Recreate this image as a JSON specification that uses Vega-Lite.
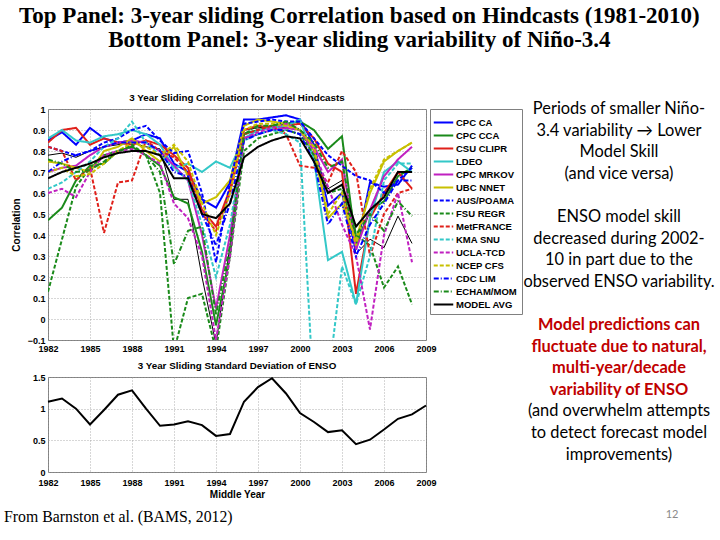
{
"$schema":"https://vega.github.io/schema/vega-lite/v6.json",
"background":"white",
"padding":{"left":4,"top":5,"right":0,"bottom":0},
"title":{"text":["Top Panel: 3-year sliding Correlation based on Hindcasts (1981-2010)","Bottom Panel: 3-year sliding variability of Niño-3.4"],"font":"Liberation Serif, Times New Roman, serif","fontSize":23,"fontWeight":"bold","lineHeight":23.5,"color":"#000","anchor":"middle","offset":41},
"config":{
 "view":{"stroke":"#808080","strokeWidth":1},
 "axis":{"labelFont":"Liberation Sans","labelFontWeight":"bold","labelFontSize":9,"labelColor":"#000","labelOverlap":false,"labelFlush":false,"gridColor":"#999","gridDash":[1,2],"gridWidth":0.8,"domain":false,"ticks":false,"titleFont":"Liberation Sans","titleFontSize":10,"titleFontWeight":"bold","titleColor":"#000","labelPadding":3}
},
"datasets":{
"corr":[
{"model":"CPC CA","year":1982,"r":0.85},{"model":"CPC CA","year":1983,"r":0.89},{"model":"CPC CA","year":1984,"r":0.83},{"model":"CPC CA","year":1985,"r":0.91},{"model":"CPC CA","year":1986,"r":0.86},{"model":"CPC CA","year":1987,"r":0.84},{"model":"CPC CA","year":1988,"r":0.85},{"model":"CPC CA","year":1989,"r":0.88},{"model":"CPC CA","year":1990,"r":0.86},{"model":"CPC CA","year":1991,"r":0.74},{"model":"CPC CA","year":1992,"r":0.70},{"model":"CPC CA","year":1993,"r":0.57},{"model":"CPC CA","year":1994,"r":0.53},{"model":"CPC CA","year":1995,"r":0.65},{"model":"CPC CA","year":1996,"r":0.95},{"model":"CPC CA","year":1997,"r":0.95},{"model":"CPC CA","year":1998,"r":0.96},{"model":"CPC CA","year":1999,"r":0.97},{"model":"CPC CA","year":2000,"r":0.95},{"model":"CPC CA","year":2001,"r":0.83},{"model":"CPC CA","year":2002,"r":0.54},{"model":"CPC CA","year":2003,"r":0.60},{"model":"CPC CA","year":2004,"r":0.33},{"model":"CPC CA","year":2005,"r":0.65},{"model":"CPC CA","year":2006,"r":0.63},{"model":"CPC CA","year":2007,"r":0.64},{"model":"CPC CA","year":2008,"r":0.73},
{"model":"CPC CCA","year":1982,"r":0.47},{"model":"CPC CCA","year":1983,"r":0.53},{"model":"CPC CCA","year":1984,"r":0.66},{"model":"CPC CCA","year":1985,"r":0.73},{"model":"CPC CCA","year":1986,"r":0.74},{"model":"CPC CCA","year":1987,"r":0.80},{"model":"CPC CCA","year":1988,"r":0.82},{"model":"CPC CCA","year":1989,"r":0.78},{"model":"CPC CCA","year":1990,"r":0.73},{"model":"CPC CCA","year":1991,"r":0.58},{"model":"CPC CCA","year":1992,"r":0.55},{"model":"CPC CCA","year":1993,"r":0.32},{"model":"CPC CCA","year":1994,"r":-0.03},{"model":"CPC CCA","year":1995,"r":0.30},{"model":"CPC CCA","year":1996,"r":0.88},{"model":"CPC CCA","year":1997,"r":0.90},{"model":"CPC CCA","year":1998,"r":0.92},{"model":"CPC CCA","year":1999,"r":0.93},{"model":"CPC CCA","year":2000,"r":0.94},{"model":"CPC CCA","year":2001,"r":0.90},{"model":"CPC CCA","year":2002,"r":0.81},{"model":"CPC CCA","year":2003,"r":0.87},{"model":"CPC CCA","year":2004,"r":0.35},{"model":"CPC CCA","year":2005,"r":0.52},{"model":"CPC CCA","year":2006,"r":0.56},{"model":"CPC CCA","year":2007,"r":0.68},{"model":"CPC CCA","year":2008,"r":0.72},
{"model":"CSU CLIPR","year":1982,"r":0.84},{"model":"CSU CLIPR","year":1983,"r":0.90},{"model":"CSU CLIPR","year":1984,"r":0.91},{"model":"CSU CLIPR","year":1985,"r":0.83},{"model":"CSU CLIPR","year":1986,"r":0.86},{"model":"CSU CLIPR","year":1987,"r":0.84},{"model":"CSU CLIPR","year":1988,"r":0.83},{"model":"CSU CLIPR","year":1989,"r":0.85},{"model":"CSU CLIPR","year":1990,"r":0.83},{"model":"CSU CLIPR","year":1991,"r":0.78},{"model":"CSU CLIPR","year":1992,"r":0.72},{"model":"CSU CLIPR","year":1993,"r":0.52},{"model":"CSU CLIPR","year":1994,"r":0.44},{"model":"CSU CLIPR","year":1995,"r":0.62},{"model":"CSU CLIPR","year":1996,"r":0.90},{"model":"CSU CLIPR","year":1997,"r":0.92},{"model":"CSU CLIPR","year":1998,"r":0.91},{"model":"CSU CLIPR","year":1999,"r":0.92},{"model":"CSU CLIPR","year":2000,"r":0.93},{"model":"CSU CLIPR","year":2001,"r":0.86},{"model":"CSU CLIPR","year":2002,"r":0.74},{"model":"CSU CLIPR","year":2003,"r":0.70},{"model":"CSU CLIPR","year":2004,"r":0.12},{"model":"CSU CLIPR","year":2005,"r":0.48},{"model":"CSU CLIPR","year":2006,"r":0.60},{"model":"CSU CLIPR","year":2007,"r":0.70},{"model":"CSU CLIPR","year":2008,"r":0.62},
{"model":"LDEO","year":1982,"r":0.86},{"model":"LDEO","year":1983,"r":0.90},{"model":"LDEO","year":1984,"r":0.85},{"model":"LDEO","year":1985,"r":0.84},{"model":"LDEO","year":1986,"r":0.87},{"model":"LDEO","year":1987,"r":0.88},{"model":"LDEO","year":1988,"r":0.90},{"model":"LDEO","year":1989,"r":0.88},{"model":"LDEO","year":1990,"r":0.83},{"model":"LDEO","year":1991,"r":0.72},{"model":"LDEO","year":1992,"r":0.74},{"model":"LDEO","year":1993,"r":0.70},{"model":"LDEO","year":1994,"r":0.75},{"model":"LDEO","year":1995,"r":0.72},{"model":"LDEO","year":1996,"r":0.86},{"model":"LDEO","year":1997,"r":0.90},{"model":"LDEO","year":1998,"r":0.91},{"model":"LDEO","year":1999,"r":0.92},{"model":"LDEO","year":2000,"r":0.95},{"model":"LDEO","year":2001,"r":0.76},{"model":"LDEO","year":2002,"r":0.28},{"model":"LDEO","year":2003,"r":0.32},{"model":"LDEO","year":2004,"r":0.07},{"model":"LDEO","year":2005,"r":0.48},{"model":"LDEO","year":2006,"r":0.70},{"model":"LDEO","year":2007,"r":0.75},{"model":"LDEO","year":2008,"r":0.70},
{"model":"CPC MRKOV","year":1982,"r":0.70},{"model":"CPC MRKOV","year":1983,"r":0.72},{"model":"CPC MRKOV","year":1984,"r":0.73},{"model":"CPC MRKOV","year":1985,"r":0.78},{"model":"CPC MRKOV","year":1986,"r":0.82},{"model":"CPC MRKOV","year":1987,"r":0.84},{"model":"CPC MRKOV","year":1988,"r":0.85},{"model":"CPC MRKOV","year":1989,"r":0.84},{"model":"CPC MRKOV","year":1990,"r":0.80},{"model":"CPC MRKOV","year":1991,"r":0.73},{"model":"CPC MRKOV","year":1992,"r":0.66},{"model":"CPC MRKOV","year":1993,"r":0.40},{"model":"CPC MRKOV","year":1994,"r":0.05},{"model":"CPC MRKOV","year":1995,"r":0.40},{"model":"CPC MRKOV","year":1996,"r":0.86},{"model":"CPC MRKOV","year":1997,"r":0.88},{"model":"CPC MRKOV","year":1998,"r":0.90},{"model":"CPC MRKOV","year":1999,"r":0.91},{"model":"CPC MRKOV","year":2000,"r":0.90},{"model":"CPC MRKOV","year":2001,"r":0.82},{"model":"CPC MRKOV","year":2002,"r":0.70},{"model":"CPC MRKOV","year":2003,"r":0.76},{"model":"CPC MRKOV","year":2004,"r":0.33},{"model":"CPC MRKOV","year":2005,"r":0.52},{"model":"CPC MRKOV","year":2006,"r":0.68},{"model":"CPC MRKOV","year":2007,"r":0.76},{"model":"CPC MRKOV","year":2008,"r":0.82},
{"model":"UBC NNET","year":1982,"r":0.75},{"model":"UBC NNET","year":1983,"r":0.74},{"model":"UBC NNET","year":1984,"r":0.72},{"model":"UBC NNET","year":1985,"r":0.70},{"model":"UBC NNET","year":1986,"r":0.80},{"model":"UBC NNET","year":1987,"r":0.82},{"model":"UBC NNET","year":1988,"r":0.86},{"model":"UBC NNET","year":1989,"r":0.80},{"model":"UBC NNET","year":1990,"r":0.75},{"model":"UBC NNET","year":1991,"r":0.82},{"model":"UBC NNET","year":1992,"r":0.68},{"model":"UBC NNET","year":1993,"r":0.55},{"model":"UBC NNET","year":1994,"r":0.58},{"model":"UBC NNET","year":1995,"r":0.66},{"model":"UBC NNET","year":1996,"r":0.92},{"model":"UBC NNET","year":1997,"r":0.95},{"model":"UBC NNET","year":1998,"r":0.94},{"model":"UBC NNET","year":1999,"r":0.93},{"model":"UBC NNET","year":2000,"r":0.90},{"model":"UBC NNET","year":2001,"r":0.80},{"model":"UBC NNET","year":2002,"r":0.48},{"model":"UBC NNET","year":2003,"r":0.55},{"model":"UBC NNET","year":2004,"r":0.38},{"model":"UBC NNET","year":2005,"r":0.60},{"model":"UBC NNET","year":2006,"r":0.75},{"model":"UBC NNET","year":2007,"r":0.80},{"model":"UBC NNET","year":2008,"r":0.84},
{"model":"AUS/POAMA","year":1982,"r":0.82},{"model":"AUS/POAMA","year":1983,"r":0.80},{"model":"AUS/POAMA","year":1984,"r":0.78},{"model":"AUS/POAMA","year":1985,"r":0.80},{"model":"AUS/POAMA","year":1986,"r":0.84},{"model":"AUS/POAMA","year":1987,"r":0.86},{"model":"AUS/POAMA","year":1988,"r":0.90},{"model":"AUS/POAMA","year":1989,"r":0.92},{"model":"AUS/POAMA","year":1990,"r":0.85},{"model":"AUS/POAMA","year":1991,"r":0.79},{"model":"AUS/POAMA","year":1992,"r":0.80},{"model":"AUS/POAMA","year":1993,"r":0.60},{"model":"AUS/POAMA","year":1994,"r":0.27},{"model":"AUS/POAMA","year":1995,"r":0.65},{"model":"AUS/POAMA","year":1996,"r":0.93},{"model":"AUS/POAMA","year":1997,"r":0.94},{"model":"AUS/POAMA","year":1998,"r":0.95},{"model":"AUS/POAMA","year":1999,"r":0.94},{"model":"AUS/POAMA","year":2000,"r":0.94},{"model":"AUS/POAMA","year":2001,"r":0.86},{"model":"AUS/POAMA","year":2002,"r":0.78},{"model":"AUS/POAMA","year":2003,"r":0.73},{"model":"AUS/POAMA","year":2004,"r":0.68},{"model":"AUS/POAMA","year":2005,"r":0.66},{"model":"AUS/POAMA","year":2006,"r":0.60},{"model":"AUS/POAMA","year":2007,"r":0.66},{"model":"AUS/POAMA","year":2008,"r":0.72},
{"model":"FSU REGR","year":1982,"r":0.13},{"model":"FSU REGR","year":1983,"r":0.38},{"model":"FSU REGR","year":1984,"r":0.63},{"model":"FSU REGR","year":1985,"r":0.72},{"model":"FSU REGR","year":1986,"r":0.78},{"model":"FSU REGR","year":1987,"r":0.80},{"model":"FSU REGR","year":1988,"r":0.83},{"model":"FSU REGR","year":1989,"r":0.78},{"model":"FSU REGR","year":1990,"r":0.60},{"model":"FSU REGR","year":1991,"r":-0.15},{"model":"FSU REGR","year":1992,"r":0.10},{"model":"FSU REGR","year":1993,"r":0.12},{"model":"FSU REGR","year":1994,"r":-0.15},{"model":"FSU REGR","year":1995,"r":0.30},{"model":"FSU REGR","year":1996,"r":0.80},{"model":"FSU REGR","year":1997,"r":0.86},{"model":"FSU REGR","year":1998,"r":0.88},{"model":"FSU REGR","year":1999,"r":0.90},{"model":"FSU REGR","year":2000,"r":0.88},{"model":"FSU REGR","year":2001,"r":0.78},{"model":"FSU REGR","year":2002,"r":0.60},{"model":"FSU REGR","year":2003,"r":0.62},{"model":"FSU REGR","year":2004,"r":0.40},{"model":"FSU REGR","year":2005,"r":0.35},{"model":"FSU REGR","year":2006,"r":0.15},{"model":"FSU REGR","year":2007,"r":0.25},{"model":"FSU REGR","year":2008,"r":0.07},
{"model":"MetFRANCE","year":1982,"r":0.82},{"model":"MetFRANCE","year":1983,"r":0.80},{"model":"MetFRANCE","year":1984,"r":0.66},{"model":"MetFRANCE","year":1985,"r":0.72},{"model":"MetFRANCE","year":1986,"r":0.41},{"model":"MetFRANCE","year":1987,"r":0.65},{"model":"MetFRANCE","year":1988,"r":0.66},{"model":"MetFRANCE","year":1989,"r":0.85},{"model":"MetFRANCE","year":1990,"r":0.80},{"model":"MetFRANCE","year":1991,"r":0.77},{"model":"MetFRANCE","year":1992,"r":0.70},{"model":"MetFRANCE","year":1993,"r":0.50},{"model":"MetFRANCE","year":1994,"r":0.42},{"model":"MetFRANCE","year":1995,"r":0.60},{"model":"MetFRANCE","year":1996,"r":0.88},{"model":"MetFRANCE","year":1997,"r":0.90},{"model":"MetFRANCE","year":1998,"r":0.92},{"model":"MetFRANCE","year":1999,"r":0.88},{"model":"MetFRANCE","year":2000,"r":0.73},{"model":"MetFRANCE","year":2001,"r":0.72},{"model":"MetFRANCE","year":2002,"r":0.65},{"model":"MetFRANCE","year":2003,"r":0.80},{"model":"MetFRANCE","year":2004,"r":0.70},{"model":"MetFRANCE","year":2005,"r":0.30},{"model":"MetFRANCE","year":2006,"r":0.50},{"model":"MetFRANCE","year":2007,"r":0.60},{"model":"MetFRANCE","year":2008,"r":0.62},
{"model":"KMA SNU","year":1982,"r":0.62},{"model":"KMA SNU","year":1983,"r":0.65},{"model":"KMA SNU","year":1984,"r":0.70},{"model":"KMA SNU","year":1985,"r":0.75},{"model":"KMA SNU","year":1986,"r":0.82},{"model":"KMA SNU","year":1987,"r":0.86},{"model":"KMA SNU","year":1988,"r":0.94},{"model":"KMA SNU","year":1989,"r":0.84},{"model":"KMA SNU","year":1990,"r":0.78},{"model":"KMA SNU","year":1991,"r":0.72},{"model":"KMA SNU","year":1992,"r":0.66},{"model":"KMA SNU","year":1993,"r":0.45},{"model":"KMA SNU","year":1994,"r":0.20},{"model":"KMA SNU","year":1995,"r":0.45},{"model":"KMA SNU","year":1996,"r":0.85},{"model":"KMA SNU","year":1997,"r":0.88},{"model":"KMA SNU","year":1998,"r":0.90},{"model":"KMA SNU","year":1999,"r":0.88},{"model":"KMA SNU","year":2000,"r":0.84},{"model":"KMA SNU","year":2001,"r":-0.40},{"model":"KMA SNU","year":2002,"r":-0.30},{"model":"KMA SNU","year":2003,"r":0.25},{"model":"KMA SNU","year":2004,"r":0.07},{"model":"KMA SNU","year":2005,"r":0.30},{"model":"KMA SNU","year":2006,"r":0.66},{"model":"KMA SNU","year":2007,"r":0.74},{"model":"KMA SNU","year":2008,"r":0.74},
{"model":"UCLA-TCD","year":1982,"r":0.60},{"model":"UCLA-TCD","year":1983,"r":0.62},{"model":"UCLA-TCD","year":1984,"r":0.58},{"model":"UCLA-TCD","year":1985,"r":0.70},{"model":"UCLA-TCD","year":1986,"r":0.78},{"model":"UCLA-TCD","year":1987,"r":0.80},{"model":"UCLA-TCD","year":1988,"r":0.81},{"model":"UCLA-TCD","year":1989,"r":0.78},{"model":"UCLA-TCD","year":1990,"r":0.74},{"model":"UCLA-TCD","year":1991,"r":0.55},{"model":"UCLA-TCD","year":1992,"r":0.48},{"model":"UCLA-TCD","year":1993,"r":0.30},{"model":"UCLA-TCD","year":1994,"r":-0.10},{"model":"UCLA-TCD","year":1995,"r":0.30},{"model":"UCLA-TCD","year":1996,"r":0.86},{"model":"UCLA-TCD","year":1997,"r":0.89},{"model":"UCLA-TCD","year":1998,"r":0.91},{"model":"UCLA-TCD","year":1999,"r":0.93},{"model":"UCLA-TCD","year":2000,"r":0.90},{"model":"UCLA-TCD","year":2001,"r":0.80},{"model":"UCLA-TCD","year":2002,"r":0.63},{"model":"UCLA-TCD","year":2003,"r":0.45},{"model":"UCLA-TCD","year":2004,"r":0.30},{"model":"UCLA-TCD","year":2005,"r":-0.05},{"model":"UCLA-TCD","year":2006,"r":0.40},{"model":"UCLA-TCD","year":2007,"r":0.60},{"model":"UCLA-TCD","year":2008,"r":0.27},
{"model":"NCEP CFS","year":1982,"r":0.70},{"model":"NCEP CFS","year":1983,"r":0.72},{"model":"NCEP CFS","year":1984,"r":0.68},{"model":"NCEP CFS","year":1985,"r":0.69},{"model":"NCEP CFS","year":1986,"r":0.74},{"model":"NCEP CFS","year":1987,"r":0.80},{"model":"NCEP CFS","year":1988,"r":0.84},{"model":"NCEP CFS","year":1989,"r":0.82},{"model":"NCEP CFS","year":1990,"r":0.78},{"model":"NCEP CFS","year":1991,"r":0.83},{"model":"NCEP CFS","year":1992,"r":0.75},{"model":"NCEP CFS","year":1993,"r":0.55},{"model":"NCEP CFS","year":1994,"r":0.40},{"model":"NCEP CFS","year":1995,"r":0.60},{"model":"NCEP CFS","year":1996,"r":0.90},{"model":"NCEP CFS","year":1997,"r":0.93},{"model":"NCEP CFS","year":1998,"r":0.93},{"model":"NCEP CFS","year":1999,"r":0.92},{"model":"NCEP CFS","year":2000,"r":0.90},{"model":"NCEP CFS","year":2001,"r":0.82},{"model":"NCEP CFS","year":2002,"r":0.50},{"model":"NCEP CFS","year":2003,"r":0.60},{"model":"NCEP CFS","year":2004,"r":0.35},{"model":"NCEP CFS","year":2005,"r":0.62},{"model":"NCEP CFS","year":2006,"r":0.76},{"model":"NCEP CFS","year":2007,"r":0.80},{"model":"NCEP CFS","year":2008,"r":0.84},
{"model":"CDC LIM","year":1982,"r":0.70},{"model":"CDC LIM","year":1983,"r":0.75},{"model":"CDC LIM","year":1984,"r":0.78},{"model":"CDC LIM","year":1985,"r":0.80},{"model":"CDC LIM","year":1986,"r":0.82},{"model":"CDC LIM","year":1987,"r":0.84},{"model":"CDC LIM","year":1988,"r":0.84},{"model":"CDC LIM","year":1989,"r":0.84},{"model":"CDC LIM","year":1990,"r":0.80},{"model":"CDC LIM","year":1991,"r":0.70},{"model":"CDC LIM","year":1992,"r":0.68},{"model":"CDC LIM","year":1993,"r":0.50},{"model":"CDC LIM","year":1994,"r":0.35},{"model":"CDC LIM","year":1995,"r":0.55},{"model":"CDC LIM","year":1996,"r":0.85},{"model":"CDC LIM","year":1997,"r":0.88},{"model":"CDC LIM","year":1998,"r":0.90},{"model":"CDC LIM","year":1999,"r":0.90},{"model":"CDC LIM","year":2000,"r":0.88},{"model":"CDC LIM","year":2001,"r":0.75},{"model":"CDC LIM","year":2002,"r":0.45},{"model":"CDC LIM","year":2003,"r":0.55},{"model":"CDC LIM","year":2004,"r":0.30},{"model":"CDC LIM","year":2005,"r":0.45},{"model":"CDC LIM","year":2006,"r":0.55},{"model":"CDC LIM","year":2007,"r":0.66},{"model":"CDC LIM","year":2008,"r":0.66},
{"model":"ECHAM/MOM","year":1982,"r":0.76},{"model":"ECHAM/MOM","year":1983,"r":0.74},{"model":"ECHAM/MOM","year":1984,"r":0.70},{"model":"ECHAM/MOM","year":1985,"r":0.71},{"model":"ECHAM/MOM","year":1986,"r":0.75},{"model":"ECHAM/MOM","year":1987,"r":0.80},{"model":"ECHAM/MOM","year":1988,"r":0.82},{"model":"ECHAM/MOM","year":1989,"r":0.78},{"model":"ECHAM/MOM","year":1990,"r":0.70},{"model":"ECHAM/MOM","year":1991,"r":0.26},{"model":"ECHAM/MOM","year":1992,"r":0.42},{"model":"ECHAM/MOM","year":1993,"r":0.44},{"model":"ECHAM/MOM","year":1994,"r":0.02},{"model":"ECHAM/MOM","year":1995,"r":0.35},{"model":"ECHAM/MOM","year":1996,"r":0.88},{"model":"ECHAM/MOM","year":1997,"r":0.92},{"model":"ECHAM/MOM","year":1998,"r":0.92},{"model":"ECHAM/MOM","year":1999,"r":0.94},{"model":"ECHAM/MOM","year":2000,"r":0.90},{"model":"ECHAM/MOM","year":2001,"r":0.84},{"model":"ECHAM/MOM","year":2002,"r":0.72},{"model":"ECHAM/MOM","year":2003,"r":0.75},{"model":"ECHAM/MOM","year":2004,"r":0.40},{"model":"ECHAM/MOM","year":2005,"r":0.50},{"model":"ECHAM/MOM","year":2006,"r":0.42},{"model":"ECHAM/MOM","year":2007,"r":0.56},{"model":"ECHAM/MOM","year":2008,"r":0.49},
{"model":"MODEL AVG","year":1982,"r":0.67},{"model":"MODEL AVG","year":1983,"r":0.70},{"model":"MODEL AVG","year":1984,"r":0.72},{"model":"MODEL AVG","year":1985,"r":0.74},{"model":"MODEL AVG","year":1986,"r":0.77},{"model":"MODEL AVG","year":1987,"r":0.79},{"model":"MODEL AVG","year":1988,"r":0.80},{"model":"MODEL AVG","year":1989,"r":0.80},{"model":"MODEL AVG","year":1990,"r":0.78},{"model":"MODEL AVG","year":1991,"r":0.67},{"model":"MODEL AVG","year":1992,"r":0.67},{"model":"MODEL AVG","year":1993,"r":0.50},{"model":"MODEL AVG","year":1994,"r":0.48},{"model":"MODEL AVG","year":1995,"r":0.55},{"model":"MODEL AVG","year":1996,"r":0.77},{"model":"MODEL AVG","year":1997,"r":0.82},{"model":"MODEL AVG","year":1998,"r":0.85},{"model":"MODEL AVG","year":1999,"r":0.87},{"model":"MODEL AVG","year":2000,"r":0.86},{"model":"MODEL AVG","year":2001,"r":0.75},{"model":"MODEL AVG","year":2002,"r":0.60},{"model":"MODEL AVG","year":2003,"r":0.64},{"model":"MODEL AVG","year":2004,"r":0.44},{"model":"MODEL AVG","year":2005,"r":0.52},{"model":"MODEL AVG","year":2006,"r":0.58},{"model":"MODEL AVG","year":2007,"r":0.70},{"model":"MODEL AVG","year":2008,"r":0.70}
],
"extra":[
{"year":1982,"r":0.78},{"year":1983,"r":0.79},{"year":1984,"r":0.77},{"year":1985,"r":0.80},{"year":1986,"r":0.82},{"year":1987,"r":0.83},{"year":1988,"r":0.84},{"year":1989,"r":0.82},{"year":1990,"r":0.81},{"year":1991,"r":0.57},{"year":1992,"r":0.57},{"year":1993,"r":0.20},{"year":1994,"r":-0.12},{"year":1995,"r":0.35},{"year":1996,"r":0.90},{"year":1997,"r":0.91},{"year":1998,"r":0.92},{"year":1999,"r":0.91},{"year":2000,"r":0.90},{"year":2001,"r":0.78},{"year":2002,"r":0.62},{"year":2003,"r":0.66},{"year":2004,"r":0.31},{"year":2005,"r":0.38},{"year":2006,"r":0.34},{"year":2007,"r":0.49},{"year":2008,"r":0.36}
],
"enso":[
{"year":1982,"sd":1.11},{"year":1983,"sd":1.16},{"year":1984,"sd":1.00},{"year":1985,"sd":0.75},{"year":1986,"sd":0.98},{"year":1987,"sd":1.22},{"year":1988,"sd":1.29},{"year":1989,"sd":1.00},{"year":1990,"sd":0.73},{"year":1991,"sd":0.75},{"year":1992,"sd":0.80},{"year":1993,"sd":0.74},{"year":1994,"sd":0.57},{"year":1995,"sd":0.60},{"year":1996,"sd":1.11},{"year":1997,"sd":1.34},{"year":1998,"sd":1.48},{"year":1999,"sd":1.24},{"year":2000,"sd":0.93},{"year":2001,"sd":0.79},{"year":2002,"sd":0.63},{"year":2003,"sd":0.66},{"year":2004,"sd":0.44},{"year":2005,"sd":0.51},{"year":2006,"sd":0.67},{"year":2007,"sd":0.84},{"year":2008,"sd":0.91},{"year":2009,"sd":1.05}
],
"notes":[
{"line":0,"block":"note","text":"Periods of smaller Niño-"},
{"line":1,"block":"note","text":"3.4 variability → Lower"},
{"line":2,"block":"note","text":"Model Skill"},
{"line":3,"block":"note","text":"(and vice versa)"},
{"line":5,"block":"note","text":"ENSO model skill"},
{"line":6,"block":"note","text":"decreased during 2002-"},
{"line":7,"block":"note","text":"10 in part due to the"},
{"line":8,"block":"note","text":"observed ENSO variability."},
{"line":10,"block":"emphasis","text":"Model predictions can"},
{"line":11,"block":"emphasis","text":"fluctuate due to natural,"},
{"line":12,"block":"emphasis","text":"multi-year/decade"},
{"line":13,"block":"emphasis","text":"variability of ENSO"},
{"line":14,"block":"note","text":"(and overwhelm attempts"},
{"line":15,"block":"note","text":"to detect forecast model"},
{"line":16,"block":"note","text":"improvements)"},
{"line":18.8,"block":"page","text":"12"}
]
},
"spacing":0,
"hconcat":[
{"vconcat":[
 {"width":378,"height":231,
  "title":{"text":"3 Year Sliding Correlation for Model Hindcasts","font":"Liberation Sans","fontSize":9.8,"fontWeight":"bold","color":"#000","offset":2},
  "encoding":{
   "x":{"field":"year","type":"quantitative","scale":{"domain":[1982,2009],"nice":false,"zero":false},"axis":{"title":null,"values":[1982,1985,1988,1991,1994,1997,2000,2003,2006,2009],"format":"d","labelPadding":4,"labelFlush":false,"labelOverlap":false}},
   "y":{"field":"r","type":"quantitative","scale":{"domain":[-0.1,1],"nice":false},"axis":{"title":"Correlation","values":[-0.1,0,0.1,0.2,0.3,0.4,0.5,0.6,0.7,0.8,0.9,1],"format":".1~f","titlePadding":6,"labelOverlap":false,"labelFlush":false,"labelBound":false}}
  },
  "layer":[
   {"data":{"name":"extra"},"mark":{"type":"line","color":"#000","strokeWidth":1,"clip":true}},
   {"data":{"name":"corr"},"mark":{"type":"line","clip":true},
    "encoding":{
     "color":{"field":"model","type":"nominal","scale":{"domain":["CPC CA","CPC CCA","CSU CLIPR","LDEO","CPC MRKOV","UBC NNET","AUS/POAMA","FSU REGR","MetFRANCE","KMA SNU","UCLA-TCD","NCEP CFS","CDC LIM","ECHAM/MOM","MODEL AVG"],"range":["#0000ff","#1a8a1a","#e0201a","#33c8c8","#c020c0","#c8c000","#0000ff","#1a8a1a","#e0201a","#33c8c8","#c020c0","#c8c000","#0000ff","#1a8a1a","#000000"]},
      "legend":{"title":null,"orient":"right","offset":4,"padding":5,"strokeColor":"#808080","labelFont":"Liberation Sans","labelFontSize":9.5,"labelFontWeight":"bold","labelColor":"#000","symbolType":"M-1.3,0H1.3","symbolSize":225,"symbolStrokeWidth":2,"rowPadding":0,"labelOffset":4}},
     "strokeDash":{"field":"model","type":"nominal","scale":{"domain":["CPC CA","CPC CCA","CSU CLIPR","LDEO","CPC MRKOV","UBC NNET","AUS/POAMA","FSU REGR","MetFRANCE","KMA SNU","UCLA-TCD","NCEP CFS","CDC LIM","ECHAM/MOM","MODEL AVG"],"range":[[1,0],[1,0],[1,0],[1,0],[1,0],[1,0],[4,2],[4,2],[4,2],[4,2],[4,2],[4,2],[5,2,1,2],[5,2,1,2],[1,0]]},
      "legend":{"title":null}},
     "strokeWidth":{"field":"model","type":"nominal","scale":{"domain":["CPC CA","CPC CCA","CSU CLIPR","LDEO","CPC MRKOV","UBC NNET","AUS/POAMA","FSU REGR","MetFRANCE","KMA SNU","UCLA-TCD","NCEP CFS","CDC LIM","ECHAM/MOM","MODEL AVG"],"range":[2,2,2,1.8,1.8,1.8,2,1,2,1,1,1,1,2,2.2]},"legend":null}
    }}
  ]},
 {"width":378,"height":95,
  "title":{"text":"3 Year Sliding Standard Deviation of ENSO","font":"Liberation Sans","fontSize":9.8,"fontWeight":"bold","color":"#000","offset":2},
  "data":{"name":"enso"},
  "mark":{"type":"line","color":"#000","strokeWidth":2},
  "encoding":{
   "x":{"field":"year","type":"quantitative","scale":{"domain":[1982,2009],"nice":false,"zero":false},"axis":{"title":"Middle Year","titlePadding":2,"values":[1982,1985,1988,1991,1994,1997,2000,2003,2006,2009],"format":"d","labelPadding":6,"labelFlush":false,"labelOverlap":false}},
   "y":{"field":"sd","type":"quantitative","scale":{"domain":[0,1.5],"nice":false},"axis":{"title":null,"values":[0,0.5,1,1.5],"format":".1~f","labelOverlap":false,"labelFlush":false}}
  }},
 {"width":378,"height":22,"view":{"stroke":null},
  "data":{"values":[{"text":"From Barnston et al. (BAMS, 2012)"}]},
  "mark":{"type":"text","font":"Liberation Serif, Times New Roman, serif","fontSize":15.8,"align":"left","baseline":"middle","dx":-44,"color":"#000"},
  "encoding":{"text":{"field":"text"},"x":{"datum":0,"type":"quantitative","scale":{"domain":[0,1]},"axis":null}}}
 ],
 "spacing":6,
 "resolve":{"scale":{"color":"independent","strokeDash":"independent","strokeWidth":"independent"},"legend":{"color":"independent","strokeDash":"independent","strokeWidth":"independent"}}
},
{"width":190,"height":432,"view":{"stroke":null},
 "data":{"name":"notes"},
 "encoding":{
  "x":{"datum":0.5,"type":"quantitative","scale":{"domain":[0,1]},"axis":null},
  "y":{"field":"line","type":"quantitative","scale":{"domain":[0,20],"reverse":true,"nice":false},"axis":null},
  "text":{"field":"text"}
 },
 "layer":[
  {"transform":[{"filter":"datum.block == 'note'"}],"mark":{"type":"text","font":"Lato","fontSize":16.4,"color":"#000","align":"center","baseline":"middle"}},
  {"transform":[{"filter":"datum.block == 'emphasis'"}],"mark":{"type":"text","font":"Lato","fontSize":16.4,"fontWeight":"bold","color":"#c00000","align":"center","baseline":"middle"}},
  {"transform":[{"filter":"datum.block == 'page'"}],"mark":{"type":"text","font":"Lato","fontSize":11,"color":"#8a8a8a","align":"center","baseline":"middle","dx":53}}
 ]}
]
}
